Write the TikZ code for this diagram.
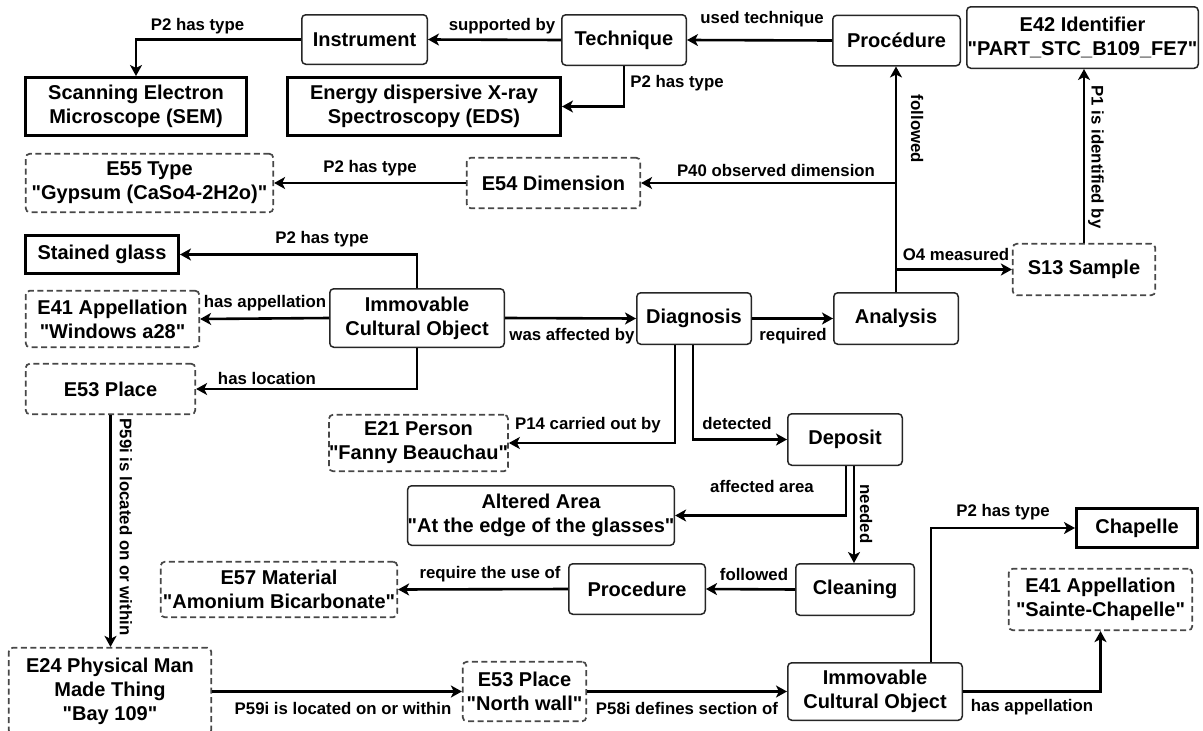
\documentclass[tikz,border=0pt]{standalone}
\usepackage{fontspec}
\setmainfont{Liberation Sans}[Ligatures=TeXOff]
\usetikzlibrary{arrows.meta}
\tikzset{
  nbox/.style={draw=black!85, line width=1.5pt, rounded corners=4pt, align=center, inner sep=0pt, fill=white,
    font=\bfseries\fontsize{20}{24}\selectfont},
  dbox/.style={nbox, draw=black!72, line width=1.7pt, dash pattern=on 6pt off 3.5pt},
  tbox/.style={nbox, rounded corners=0pt, draw=black, line width=3pt},
  lbl/.style={font=\bfseries\fontsize{16.8}{18}\selectfont, inner sep=0pt},
  arr/.style={line width=2.6pt, -{Stealth[length=11pt,width=12pt,inset=3pt]}},
  ln/.style={line width=2.6pt}
}
\begin{document}
\begin{tikzpicture}[x=1pt,y=-1pt]
\useasboundingbox (0,0) rectangle (1203,731);
% nodes
\node[nbox, minimum width=125.5pt, minimum height=49.5pt] (instr) at (364.5,39.5) {Instrument};
\node[nbox, minimum width=124.5pt, minimum height=50.5pt] (tech) at (624,40) {Technique};
\node[nbox, minimum width=127.5pt, minimum height=50.5pt] (proc) at (896.5,40.5) {Procédure};
\node[nbox, minimum width=231.5pt, minimum height=61.5pt] (ident) at (1082.5,37.5) {E42 Identifier\\"PART\_STC\_B109\_FE7"};
\node[tbox, minimum width=221pt, minimum height=58pt] (sem) at (136,106.5) {Scanning Electron\\Microscope (SEM)};
\node[tbox, minimum width=273pt, minimum height=58pt] (eds) at (424,106.5) {Energy dispersive X-ray\\Spectroscopy (EDS)};
\node[dbox, minimum width=247.5pt, minimum height=58.5pt] (e55) at (149.5,183) {E55 Type\\"Gypsum (CaSo4-2H2o)"};
\node[dbox, minimum width=173.5pt, minimum height=50.5pt] (dim) at (553.5,183) {E54 Dimension};
\node[tbox, minimum width=153pt, minimum height=38pt] (sg) at (102,254.5) {Stained glass};
\node[dbox, minimum width=173.5pt, minimum height=56.5pt] (app1) at (112.5,319) {E41 Appellation\\"Windows a28"};
\node[dbox, minimum width=169.5pt, minimum height=50.5pt] (pl1) at (110.5,389) {E53 Place};
\node[nbox, minimum width=174.5pt, minimum height=58.5pt] (ico1) at (417,318) {Immovable\\Cultural Object};
\node[nbox, minimum width=114.5pt, minimum height=51.5pt] (diag) at (694,318.5) {Diagnosis};
\node[nbox, minimum width=124.5pt, minimum height=51.5pt] (ana) at (896,318.5) {Analysis};
\node[dbox, minimum width=142.5pt, minimum height=51.5pt] (samp) at (1084,269.5) {S13 Sample};
\node[dbox, minimum width=177.5pt, minimum height=56.5pt] (pers) at (418.5,443) {E21 Person\\"Fanny Beauchau"};
\node[nbox, minimum width=114.5pt, minimum height=51.5pt] (dep) at (845,439.5) {Deposit};
\node[nbox, minimum width=264.5pt, minimum height=59.5pt] (alt) at (541,515.5) {Altered Area\\"At the edge of the glasses"};
\node[dbox, minimum width=236.5pt, minimum height=55.5pt] (mat) at (279,589.5) {E57 Material\\"Amonium Bicarbonate"};
\node[nbox, minimum width=136.5pt, minimum height=50.5pt] (proc2) at (637,589) {Procedure};
\node[nbox, minimum width=118.5pt, minimum height=51.5pt] (clean) at (855,589.5) {Cleaning};
\node[tbox, minimum width=121pt, minimum height=39pt] (chap) at (1137,528) {Chapelle};
\node[dbox, minimum width=183.5pt, minimum height=61.5pt] (app2) at (1100.5,599.5) {E41 Appellation\\"Sainte-Chapelle"};
\node[nbox, minimum width=174.5pt, minimum height=57.5pt] (ico2) at (875,691.5) {Immovable\\Cultural Object};
\node[dbox, minimum width=202.5pt, minimum height=86.5pt] (e24) at (110,691) {E24 Physical Man\\Made Thing\\"Bay 109"};
\node[dbox, minimum width=123.5pt, minimum height=59.5pt] (nw) at (524.5,691.5) {E53 Place\\"North wall"};
% connectors
\draw[arr] (instr.west) -| (sem.north);
\draw[arr] (tech.west) -- (instr.east);
\draw[arr] (proc.west) -- (tech.east);
\draw[arr] (tech.south) |- (eds.east);
\draw[arr] (ana.north) -- (ana.north |- proc.south);
\draw[arr] (ana.north |- dim.east) -- (dim.east);
\draw[arr] (ana.north |- samp.west) -- (samp.west);
\draw[arr] (samp.north) -- (samp.north |- ident.south);
\draw[arr] (dim.west) -- (e55.east);
\draw[arr] (ico1.north) |- (sg.east);
\draw[arr] (ico1.west) -- (app1.east);
\draw[arr] (ico1.south) |- (pl1.east);
\draw[arr] (ico1.east) -- (diag.west);
\draw[arr] (diag.east) -- (ana.west);
\draw[arr] ([xshift=-19pt]diag.south) |- (pers.east);
\draw[arr] ([xshift=-1pt]diag.south) |- (dep.west);
\draw[arr] ([xshift=1pt]dep.south) |- (alt.east);
\draw[arr] ([xshift=9pt]dep.south) -- ([xshift=-1pt]clean.north);
\draw[arr] (clean.west) -- (proc2.east);
\draw[arr] (proc2.west) -- (mat.east);
\draw[arr] (pl1.south) -- (pl1.south |- e24.north);
\draw[arr] (e24.east |- nw.west) -- (nw.west);
\draw[arr] (nw.east) -- (ico2.west);
\draw[arr] ([xshift=56pt]ico2.north) |- (chap.west);
\draw[arr] (ico2.east) -| (app2.south);
% labels
\node[lbl] (l1) at (197.5,26) {P2 has type};
\node[lbl] (l2) at (502,26) {supported by};
\node[lbl] (l3) at (762,19) {used technique};
\node[lbl] (l4) at (677,83) {P2 has type};
\node[lbl, rotate=-90] (l5) at (917,129) {followed};
\node[lbl] (l6) at (776,170) {P40 observed dimension};
\node[lbl] (l7) at (956,254) {O4 measured};
\node[lbl, rotate=-90] (l8) at (1096,157) {P1 is identified by};
\node[lbl] (l9) at (370,168) {P2 has type};
\node[lbl] (l10) at (322,239) {P2 has type};
\node[lbl] (l11) at (265,303) {has appellation};
\node[lbl] (l12) at (267,378) {has location};
\node[lbl] (l13) at (572,336) {was affected by};
\node[lbl] (l14) at (793,336) {required};
\node[lbl] (l15) at (588,425) {P14 carried out by};
\node[lbl] (l16) at (737,423) {detected};
\node[lbl] (l17) at (762,486) {affected area};
\node[lbl, rotate=-90] (l18) at (866,514) {needed};
\node[lbl] (l19) at (754,574) {followed};
\node[lbl] (l20) at (490,574) {require the use of};
\node[lbl, rotate=-90] (l21) at (126,527) {P59i is located on or within};
\node[lbl] (l22) at (343,708) {P59i is located on or within};
\node[lbl] (l23) at (687,708) {P58i defines section of};
\node[lbl] (l24) at (1003,512) {P2 has type};
\node[lbl] (l25) at (1032,707) {has appellation};
\end{tikzpicture}
\end{document}
